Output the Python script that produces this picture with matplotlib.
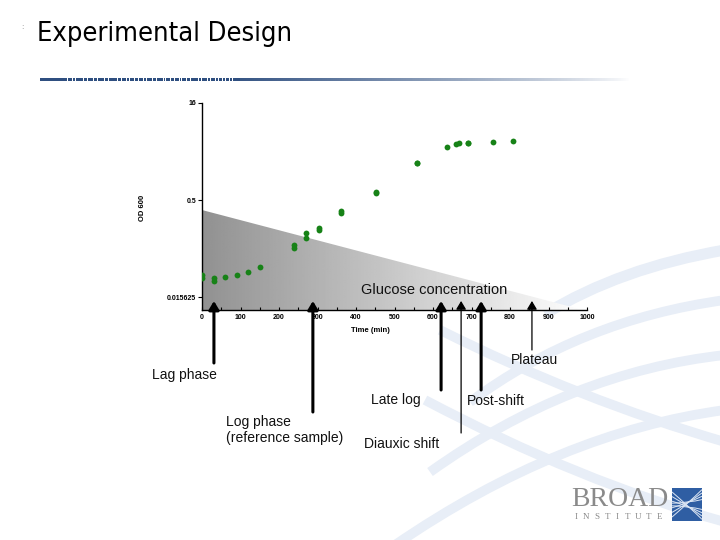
import numpy as np
import matplotlib
matplotlib.use('Agg')
import matplotlib.pyplot as plt
from matplotlib.patches import Polygon, PathPatch
from matplotlib.path import Path

# ---------------- data ----------------
time_min = [0, 0, 30, 30, 60, 90, 120, 150, 240, 240, 270, 270, 305, 305,
            360, 360, 452, 452, 559, 559, 636, 660, 667, 691, 691, 755, 809]
od600 = [0.034, 0.031, 0.031, 0.028, 0.032, 0.034, 0.038, 0.046, 0.100, 0.089,
         0.152, 0.129, 0.186, 0.172, 0.34, 0.31, 0.67, 0.65, 1.9, 1.85, 3.36,
         3.66, 3.9, 3.9, 3.85, 4.04, 4.1]

x_ticks = [0, 100, 200, 300, 400, 500, 600, 700, 800, 900, 1000]
y_ticks = [0.015625, 0.5, 16]
y_tick_labels = ['0.015625', '0.5', '16']

glucose_time = [0, 990]
glucose_start = 0.35

stage_names = ['Lag phase', 'Log phase\n(reference sample)', 'Late log',
               'Diauxic shift', 'Post-shift', 'Plateau']
stage_time = [31, 288, 621, 673, 725, 857]
stage_thick = [True, True, True, False, True, False]

# ---------------- layout helpers ----------------
W, H = 720, 540
def fx(px):
    return px / W
def fy(py):
    return 1 - py / H

fig = plt.figure(figsize=(7.2, 5.4), dpi=100)
fig.patch.set_facecolor('white')

# background decoration (light blue swooshes)
bg = fig.add_axes([0, 0, 1, 1], zorder=-5)
bg.set_xlim(0, W); bg.set_ylim(H, 0); bg.axis('off')
swooshes = [
    ((545, 314), (620, 268), (725, 250), 8),
    ((470, 402), (580, 320), (725, 300), 7),
    ((430, 472), (570, 372), (725, 355), 7),
    ((395, 545), (560, 432), (725, 410), 7),
    ((440, 330), (580, 400), (725, 442), 7),
    ((425, 400), (580, 482), (725, 522), 7),
]
for p0, p1, p2, lw in swooshes:
    path = Path([p0, p1, p2], [Path.MOVETO, Path.CURVE3, Path.CURVE3])
    bg.add_patch(PathPatch(path, fc='none', ec='#e8eef7', lw=lw))

# title
fig.text(fx(37), fy(34), 'Experimental Design', fontsize=19.5,
         family='DejaVu Sans', fontstretch='condensed', va='center', ha='left',
         color='black')
fig.text(fx(21), fy(27), ':', fontsize=5, color='#888888', va='center')

# title underline bar (gradient with small gaps)
bar = fig.add_axes([fx(40), fy(81), fx(630) - fx(40), 3 / H], zorder=-4)
bar.axis('off')
n = 590
alpha = np.ones(n)
start_fade = 200
alpha[start_fade:] = np.linspace(0.95, 0, n - start_fade) ** 0.8
grad = np.zeros((1, n, 4))
grad[..., 0] = 0x2f / 255; grad[..., 1] = 0x4f / 255; grad[..., 2] = 0x80 / 255
grad[0, :, 3] = alpha
gap_px = [67, 72, 75, 83, 87, 93, 97, 104, 108, 117, 121, 126, 129, 134,
          138, 143, 146, 152, 156, 163, 165, 170, 174, 179, 181, 186, 190,
          198, 201, 207, 210, 215, 218, 222, 225, 229, 232]
for gp in gap_px:
    i = gp - 40
    grad[0, i:i + 1, 3] = 0
bar.imshow(grad, aspect='auto', extent=[0, 1, 0, 1], interpolation='nearest')

# ---------------- main chart ----------------
ax = fig.add_axes([fx(202), fy(310), fx(587) - fx(202), (310 - 103) / H])
ax.set_yscale('log', base=2)
ymin, ymax = 0.00985, 16
ax.set_xlim(0, 1000)
ax.set_ylim(ymin, ymax)
ax.patch.set_alpha(0)

# glucose triangle with horizontal gradient
tri = Polygon([(glucose_time[0], ymin), (glucose_time[0], glucose_start),
               (glucose_time[1], ymin)], closed=True, transform=ax.transData,
              fc='none', ec='none')
ax.add_patch(tri)
g = np.linspace(0.57, 1.0, 256)[None, :]
im = ax.imshow(g, cmap='gray', vmin=0, vmax=1, aspect='auto',
               extent=[0, 1, 0, 1], transform=ax.transAxes, zorder=0)
im.set_clip_path(tri)
ax.text(0.603, 0.097, 'Glucose concentration', transform=ax.transAxes,
        fontsize=10.5, family='Liberation Sans', ha='center', va='center',
        color='#111111', zorder=3)

ax.plot(time_min, od600, 'o', color='#178217', markersize=4.2, zorder=4,
        markeredgewidth=0)

for side in ['top', 'right']:
    ax.spines[side].set_visible(False)
for side in ['left', 'bottom']:
    ax.spines[side].set_linewidth(1.0)

ax.set_xticks(x_ticks)
ax.set_xticks(range(50, 1000, 100), minor=True)
ax.set_xticklabels([str(v) for v in x_ticks])
ax.set_yticks(y_ticks)
ax.set_yticklabels(y_tick_labels)
ax.yaxis.set_minor_locator(matplotlib.ticker.NullLocator())
ax.tick_params(axis='x', which='both', direction='in', length=2.5, width=0.8,
               pad=3)
ax.tick_params(axis='y', which='both', direction='out', length=3, width=0.8,
               pad=1)
for lab in ax.get_xticklabels() + ax.get_yticklabels():
    lab.set_fontsize(5)
    lab.set_fontweight('bold')
    lab.set_family('Liberation Sans')

fig.text(fx(370), fy(331), 'Time (min)', fontsize=5.5, fontweight='bold',
         family='Liberation Sans', ha='center', va='center')
fig.text(fx(143), fy(208), 'OD 600', fontsize=5.5, fontweight='bold',
         family='Liberation Sans', ha='center', va='center', rotation=90)

# ---------------- stage arrows ----------------
tip_frac = (310 - 301) / 207
tail_px = [363, 412, 390, 433, 390, 350]
label_pos = [(152, 375), (226, 430), (371, 400), (364, 444), (467, 401),
             (511, 360)]
for name, t, thick, tail, (lx, ly) in zip(stage_names, stage_time,
                                          stage_thick, tail_px, label_pos):
    tail_frac = (310 - tail) / 207
    ax.annotate('', xy=(t, tip_frac), xycoords=('data', 'axes fraction'),
                xytext=(t, tail_frac), textcoords=('data', 'axes fraction'),
                arrowprops=dict(arrowstyle='-|>,head_length=0.5,head_width=0.3',
                                lw=2.2 if thick else 0.9,
                                color='black', mutation_scale=10,
                                shrinkA=0, shrinkB=0),
                annotation_clip=False, zorder=5)
    fig.text(fx(lx), fy(ly), name, fontsize=10, family='Liberation Sans',
             ha='left', va='center', color='#111111', linespacing=1.15)

# ---------------- logo ----------------
fig.text(fx(571), fy(500), 'BROAD', fontsize=20, family='Liberation Serif',
         color='#8a8a8a', ha='left', va='center')
for i, ch in enumerate('INSTITUTE'):
    fig.text(fx(576 + i * 10.4), fy(517), ch, fontsize=6.5,
             family='Liberation Serif', color='#8a8a8a', ha='center',
             va='center')
lg = fig.add_axes([fx(672), fy(521), 30 / W, 33 / H])
lg.set_xlim(0, 1); lg.set_ylim(0, 1)
lg.set_xticks([]); lg.set_yticks([])
for s in lg.spines.values():
    s.set_visible(False)
lg.set_facecolor('#2f5ea3')
for k in range(4):
    off = 0.12 + 0.14 * k
    p1 = Path([(0.0, off), (0.55, 0.55), (1.0, 0.95 - 0.1 * k)],
              [Path.MOVETO, Path.CURVE3, Path.CURVE3])
    p2 = Path([(0.0, 1 - off), (0.55, 0.45), (1.0, 0.05 + 0.1 * k)],
              [Path.MOVETO, Path.CURVE3, Path.CURVE3])
    lg.add_patch(PathPatch(p1, fc='none', ec='#dce6f4', lw=0.7))
    lg.add_patch(PathPatch(p2, fc='none', ec='#dce6f4', lw=0.7))

fig.savefig('out.png', dpi=100, facecolor='white')
